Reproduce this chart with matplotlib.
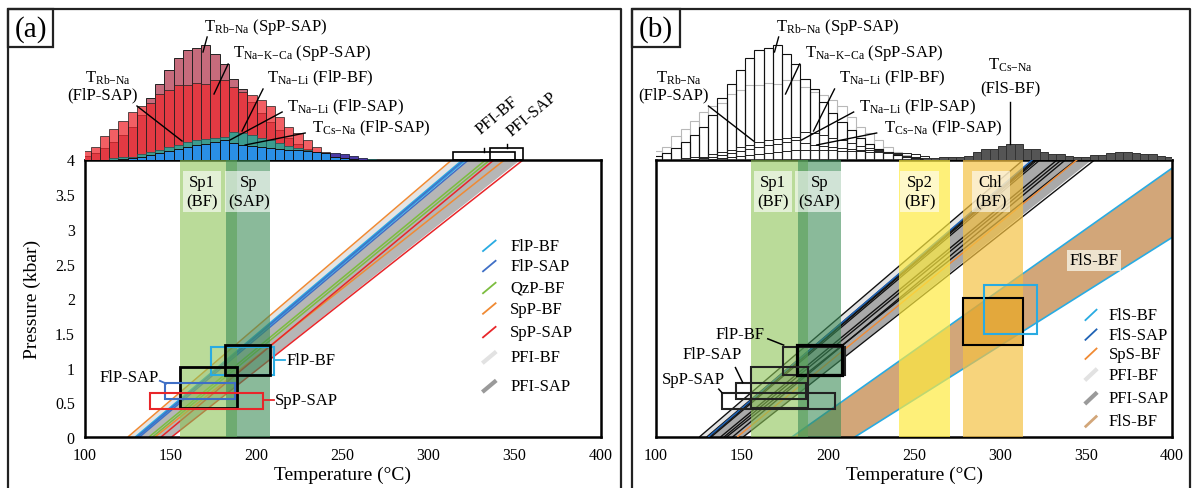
import matplotlib
matplotlib.use('Agg')
import matplotlib.pyplot as plt
from matplotlib.patches import Rectangle
from matplotlib.lines import Line2D
import numpy as np

plt.rcParams['font.family'] = ['Liberation Serif', 'DejaVu Serif']
plt.rcParams['mathtext.fontset'] = 'custom'
plt.rcParams['mathtext.rm'] = 'Liberation Serif'
plt.rcParams['mathtext.it'] = 'Liberation Serif:italic'

# ---------------- data ----------------
BIN_EDGES = [98.2, 103.6, 108.9, 114.3, 119.6, 125.0, 130.4, 135.7, 141.1, 146.4,
             151.8, 157.2, 162.5, 167.9, 173.2, 178.6, 184.0, 189.3, 194.7, 200.0,
             205.4, 210.8, 216.1, 221.5, 226.8, 232.2, 237.6, 242.9, 248.3, 253.6,
             259.0, 264.4, 269.7]
RB_NA_SPP_SAP = [4, 7, 12, 18, 25, 33, 45, 62, 76, 90, 102, 110, 112, 115, 106, 96,
                 81, 71, 58, 47, 38, 30, 22, 16, 11, 8, 5, 3, 2, 1, 1, 0]
NA_K_CA_SPP_SAP = [9, 13, 24, 31, 39, 48, 54, 57, 66, 70, 75, 75, 77, 76, 80, 80,
                   73, 68, 65, 60, 54, 43, 33, 27, 20, 13, 8, 5, 3, 2, 1, 0]
NA_LI_FLP_BF = [0, 0, 0, 2, 3, 3, 6, 8, 10, 13, 15, 18, 20, 21, 22, 23,
                28, 27, 25, 22, 20, 17, 14, 12, 10, 8, 6, 4, 3, 2, 1, 1]
CS_NA_FLP_SAP = [0, 0, 0, 0, 1, 2, 3, 5, 7, 9, 11, 13, 15, 16, 18, 20,
                 17, 15, 14, 13, 12, 11, 10, 10, 9, 8, 7, 3, 2, 1, 0, 0]
NA_LI_FLP_SAP = [0, 0, 0, 0, 0, 0, 1, 2, 3, 4, 5, 6, 7, 8, 9, 10,
                 10, 10, 10, 10, 9, 9, 9, 8, 8, 7, 7, 7, 6, 4, 2, 0]

FLS_BIN_EDGES = [255.0, 259.9, 264.7, 269.6, 274.4, 279.3, 284.2, 289.0, 293.9, 298.7,
                 303.6, 308.5, 313.3, 318.2, 323.0, 327.9, 332.8, 337.6, 342.5, 347.3,
                 352.2, 357.1, 361.9, 366.8, 371.6, 376.5, 381.4, 386.2, 391.1, 395.9, 400.8]
CS_NA_FLS_BF = [2, 2, 2.5, 3, 3, 3.3, 7.7, 11, 11, 13.7, 15.3, 15.3, 11, 11, 7.7,
                5.3, 5.3, 3.3, 2.7, 2.7, 4.3, 4.3, 6.7, 7.7, 7.7, 6.7, 5.3, 5.3, 3.3, 2.7]

# isochores: temperature at P = 0 and at P = 4 kbar
SPP_BF_T0, SPP_BF_T4 = [125.2, 141.0], [313.8, 344.5]
FLP_BF_T0, FLP_BF_T4 = [129.5, 131.0], [320.0, 322.0]
FLP_SAP_T0, FLP_SAP_T4 = [130.5, 132.0], [321.0, 323.5]
QZP_BF_T0, QZP_BF_T4 = [137.5, 139.5], [333.5, 336.0]
SPP_SAP_T0, SPP_SAP_T4 = [144.5, 150.7], [338.3, 355.3]
PFI_BF_T0, PFI_BF_T4 = [125.2, 129.5], [313.8, 320.0]
PFI_SAP_T0, PFI_SAP_T4 = [131.0, 150.0], [323.0, 353.0]
FLS_SAP_T0, FLS_SAP_T4 = [130.3], [319.0]
SPS_BF_T0, SPS_BF_T4 = [147.2], [345.0]
# FlS-BF band edges (T, P) end points
FLS_BF_UP_T, FLS_BF_UP_P = [179.0, 400.0], [0.0, 3.875]
FLS_BF_LO_T, FLS_BF_LO_P = [215.6, 400.0], [0.0, 2.875]

# mineral temperature ranges
SP1_BF = (155.3, 188.6)
SP_SAP = (182.3, 207.6)
SP2_BF = (241.3, 271.2)
CHL_BF = (278.3, 313.5)

# P-T boxes (Tmin, Tmax, Pmin, Pmax)
BOX_FLP_BF = (173.7, 210.1, 0.89, 1.30)
BOX_EST_SAP = (181.8, 208.0, 0.89, 1.33)
BOX_EST_BF = (155.3, 188.6, 0.42, 1.01)
BOX_FLP_SAP = (146.7, 187.4, 0.55, 0.78)
BOX_SPP_SAP = (138.3, 203.9, 0.41, 0.64)
BOX_CHL = (278.3, 313.5, 1.33, 2.01)
BOX_FLS_BF = (290.9, 321.4, 1.49, 2.19)

# PFI ranges at 4 kbar (panel a)
PFI_BF_RANGE = (314.0, 350.4)
PFI_SAP_RANGE = (335.9, 354.9)

XTICKS = [100, 150, 200, 250, 300, 350, 400]
YTICKS = [0, 0.5, 1, 1.5, 2, 2.5, 3, 3.5, 4]
YTICKLABELS = ['0', '0.5', '1', '1.5', '2', '2.5', '3', '3.5', '4']

# colours
C_LBLUE = '#29abe2'
C_BLUE = '#3f6fc6'
C_GREEN = '#7cbd3f'
C_ORANGE = '#f08a33'
C_RED = '#e8262a'
C_PFI_BF = '#e4e4e4'
C_PFI_SAP = '#a9a9a9'

W, H = 1192, 489
fig = plt.figure(figsize=(W / 100, H / 100), dpi=100)


def fbox(x0, y0, x1, y1):
    return [x0 / W, 1 - y1 / H, (x1 - x0) / W, (y1 - y0) / H]


AX_TOP, AX_BOT, HIST_TOP = 160.5, 438.0, 10.0
axA = fig.add_axes(fbox(84.5, AX_TOP, 600.5, AX_BOT))
axB = fig.add_axes(fbox(656.0, AX_TOP, 1172.0, AX_BOT))
hA = fig.add_axes(fbox(84.5, HIST_TOP, 600.5, AX_TOP), sharex=axA)
hB = fig.add_axes(fbox(656.0, HIST_TOP, 1172.0, AX_TOP), sharex=axB)

FS = 12
for ax in (axA, axB):
    ax.set_xlim(100, 400)
    ax.set_ylim(0, 4)
    ax.set_xticks(XTICKS)
    ax.set_xticklabels([str(v) for v in XTICKS], fontsize=11.5)
    ax.set_yticks(YTICKS)
    ax.tick_params(length=0, pad=7)
    for s in ax.spines.values():
        s.set_linewidth(1.8)
    ax.set_xlabel('Temperature (°C)', fontsize=14, labelpad=2)
axA.set_yticklabels(YTICKLABELS, fontsize=11.5)
axB.set_yticklabels([])
axA.set_ylabel('Pressure (kbar)', fontsize=14, labelpad=10)

for h in (hA, hB):
    h.set_ylim(0, AX_TOP - HIST_TOP)
    h.axis('off')
    h.patch.set_alpha(0)

edges = np.array(BIN_EDGES)
lefts, widths = edges[:-1], np.diff(edges)

# ---- panel (a) histograms ----
hA.bar(lefts, RB_NA_SPP_SAP, widths, align='edge', color='#c66b7c', edgecolor='#222222', lw=0.7, zorder=1)
hA.bar(lefts, NA_K_CA_SPP_SAP, widths, align='edge', color='#ee2a30', alpha=0.75, edgecolor='#222222', lw=0.7, zorder=2)
hA.bar(lefts, NA_LI_FLP_BF, widths, align='edge', color='#2aa898', alpha=0.9, edgecolor='#225555', lw=0.6, zorder=3)
hA.bar(lefts, NA_LI_FLP_SAP, widths, align='edge', color='#4b3aa6', edgecolor='#222244', lw=0.6, zorder=4)
hA.bar(lefts, CS_NA_FLP_SAP, widths, align='edge', color='#2a8fe6', edgecolor='#111111', lw=0.7, zorder=5)

# ---- panel (b) histograms (outlines) ----
hB.bar(lefts, NA_K_CA_SPP_SAP, widths, align='edge', facecolor='none', edgecolor='#b8b8b8', lw=0.8, zorder=1)
hB.bar(lefts, RB_NA_SPP_SAP, widths, align='edge', facecolor='none', edgecolor='#111111', lw=0.8, zorder=2)
for arr in (NA_LI_FLP_BF, NA_LI_FLP_SAP, CS_NA_FLP_SAP):
    hB.bar(lefts, arr, widths, align='edge', facecolor='none', edgecolor='#222222', lw=0.7, zorder=2)
fe = np.array(FLS_BIN_EDGES)
hB.bar(fe[:-1], CS_NA_FLS_BF, np.diff(fe), align='edge', color='#555555', edgecolor='#333333', lw=0.7, zorder=3)

# histogram labels: (text, x, y, pointer from, pointer to)
SUBLABELS = [
    (r'T$_{\mathregular{Rb{-}Na}}$ (SpP-SAP)', 169.5, 133.5, (171.3, 122.5), (168.9, 107.5)),
    (r'T$_{\mathregular{Na{-}K{-}Ca}}$ (SpP-SAP)', 186.4, 107.5, (183.5, 95.5), (175.3, 65.5)),
    (r'T$_{\mathregular{Na{-}Li}}$ (FlP-BF)', 206.2, 82.5, (203.8, 70.5), (191.6, 28.5)),
    (r'T$_{\mathregular{Na{-}Li}}$ (FlP-SAP)', 217.8, 53.5, (214.9, 47.5), (184.6, 19.5)),
    (r'T$_{\mathregular{Cs{-}Na}}$ (FlP-SAP)', 232.3, 32.5, (228.3, 26.5), (193.4, 14.5)),
]
for h in (hA, hB):
    for txt, x, y, p0, p1 in SUBLABELS:
        h.text(x, y, txt, fontsize=FS, ha='left', va='center', zorder=10, clip_on=False)
        h.plot([p0[0], p1[0]], [p0[1], p1[1]], color='k', lw=1.0, zorder=10, clip_on=False)
    h.text(113.4, 82.5, r'T$_{\mathregular{Rb{-}Na}}$', fontsize=FS, ha='center', va='center', zorder=10, clip_on=False)
    h.text(110.2, 65.5, '(FlP-SAP)', fontsize=FS, ha='center', va='center', zorder=10, clip_on=False)
    h.plot([130.5, 156.7], [53.5, 18.5], color='k', lw=1.0, zorder=10, clip_on=False)

hB.text(305.9, 95.5, r'T$_{\mathregular{Cs{-}Na}}$', fontsize=FS, ha='center', va='center', zorder=10)
hB.text(305.9, 72.5, '(FlS-BF)', fontsize=FS, ha='center', va='center', zorder=10)
hB.plot([305.9, 305.9], [57.5, 15.5], color='k', lw=1.0, zorder=10)

# PFI ranges on top of panel (a)
for (t0, t1), hgt, lab, lx, ly in ((PFI_BF_RANGE, 7.2, 'PFI-BF', 331.5, 22.0),
                                   (PFI_SAP_RANGE, 11.5, 'PFI-SAP', 349.5, 20.0)):
    hA.add_patch(Rectangle((t0, 0), t1 - t0, hgt, fill=False, ec='k', lw=1.2, zorder=6, clip_on=False))
    tm = (t0 + t1) / 2
    hA.plot([tm, tm], [hgt, hgt + 4], color='k', lw=1.0, zorder=6, clip_on=False)
    hA.text(lx, ly, lab, rotation=40, rotation_mode='anchor', ha='left', va='bottom',
            fontsize=FS, clip_on=False)

# ---- isochores ----
P_ENDS = [0, 4]


def draw_lines(ax, t0s, t4s, color, lw=1.1, z=2, ls='-'):
    for a, b in zip(t0s, t4s):
        ax.plot([a, b], P_ENDS, color=color, lw=lw, zorder=z, ls=ls, solid_capstyle='butt')


def draw_band(ax, t0s, t4s, color, alpha=1.0, z=1):
    ax.fill_betweenx(P_ENDS, [t0s[0], t4s[0]], [t0s[1], t4s[1]], color=color, alpha=alpha, lw=0, zorder=z)


# panel (a)
draw_band(axA, PFI_BF_T0, PFI_BF_T4, C_PFI_BF)
draw_band(axA, PFI_SAP_T0, PFI_SAP_T4, C_PFI_SAP, alpha=0.85)
draw_lines(axA, SPP_BF_T0, SPP_BF_T4, C_ORANGE)
draw_lines(axA, FLP_BF_T0, FLP_BF_T4, C_LBLUE)
draw_lines(axA, FLP_SAP_T0, FLP_SAP_T4, C_BLUE)
draw_lines(axA, QZP_BF_T0, QZP_BF_T4, C_GREEN)
draw_lines(axA, SPP_SAP_T0, SPP_SAP_T4, C_RED)

# panel (b)
draw_band(axB, PFI_BF_T0, PFI_BF_T4, C_PFI_BF)
draw_band(axB, PFI_SAP_T0, PFI_SAP_T4, '#a0a0a0', alpha=0.9)
for t0s, t4s in ((SPP_BF_T0, SPP_BF_T4), (FLP_BF_T0, FLP_BF_T4), (FLP_SAP_T0, FLP_SAP_T4),
                 (QZP_BF_T0, QZP_BF_T4), (SPP_SAP_T0, SPP_SAP_T4)):
    draw_lines(axB, t0s, t4s, '#111111', lw=1.0)
draw_lines(axB, FLS_SAP_T0, FLS_SAP_T4, '#1f63b5', lw=1.1, z=3)
draw_lines(axB, SPS_BF_T0, SPS_BF_T4, C_ORANGE, lw=1.0, z=3)
# FlS-BF band
poly_t = [FLS_BF_UP_T[0], FLS_BF_UP_T[1], FLS_BF_LO_T[1], FLS_BF_LO_T[0]]
poly_p = [FLS_BF_UP_P[0], FLS_BF_UP_P[1], FLS_BF_LO_P[1], FLS_BF_LO_P[0]]
axB.fill(poly_t, poly_p, color='#d2a679', lw=0, zorder=1)
axB.plot(FLS_BF_UP_T, FLS_BF_UP_P, color=C_LBLUE, lw=1.2, zorder=2)
axB.plot(FLS_BF_LO_T, FLS_BF_LO_P, color=C_LBLUE, lw=1.2, zorder=2)
axB.text(354.6, 2.55, 'FlS-BF', fontsize=FS, ha='center', va='center', zorder=6,
         bbox=dict(boxstyle='square,pad=0.15', fc='#f4eedf', ec='none', alpha=0.85))

# ---- mineral bands ----
BAND_Z = 4
for ax in (axA, axB):
    ax.axvspan(*SP1_BF, color='#8cc456', alpha=0.6, lw=0, zorder=BAND_Z)
    ax.axvspan(*SP_SAP, color='#3c8c57', alpha=0.6, lw=0, zorder=BAND_Z)
axB.axvspan(*SP2_BF, color='#feeb41', alpha=0.7, lw=0, zorder=BAND_Z)
axB.axvspan(*CHL_BF, color='#f5c244', alpha=0.7, lw=0, zorder=BAND_Z)

lab_box = dict(boxstyle='square,pad=0.2', fc='white', ec='none', alpha=0.6)
BAND_LABELS_A = [('Sp1\n(BF)', 168.5), ('Sp\n(SAP)', 195.5)]
BAND_LABELS_B = [('Sp1\n(BF)', 168.0), ('Sp\n(SAP)', 195.0), ('Sp2\n(BF)', 253.2), ('Chl\n(BF)', 294.6)]
for ax, labs in ((axA, BAND_LABELS_A), (axB, BAND_LABELS_B)):
    for t, x in labs:
        ax.text(x, 3.54, t, fontsize=FS, ha='center', va='center', zorder=6, bbox=lab_box,
                linespacing=1.25)


# ---- P-T boxes ----
def rect(ax, b, color, lw=1.4, z=7, fc='none'):
    ax.add_patch(Rectangle((b[0], b[2]), b[1] - b[0], b[3] - b[2], fc=fc, ec=color, lw=lw, zorder=z))


rect(axA, BOX_FLP_BF, C_LBLUE, lw=1.5)
rect(axA, BOX_EST_SAP, 'k', lw=2.0)
rect(axA, BOX_EST_BF, 'k', lw=2.0)
rect(axA, BOX_FLP_SAP, C_BLUE, lw=1.5)
rect(axA, BOX_SPP_SAP, C_RED, lw=1.5)
axA.text(217.6, 1.11, 'FlP-BF', fontsize=FS, ha='left', va='center', zorder=8)
axA.plot([BOX_FLP_BF[1], 216.5], [1.11, 1.11], color=C_LBLUE, lw=1.3, zorder=8)
axA.text(143.4, 0.86, 'FlP-SAP', fontsize=FS, ha='right', va='center', zorder=8)
axA.plot([143.8, 147.5], [0.81, 0.77], color=C_BLUE, lw=1.3, zorder=8)
axA.text(210.9, 0.53, 'SpP-SAP', fontsize=FS, ha='left', va='center', zorder=8)
axA.plot([BOX_SPP_SAP[1], 210.0], [0.53, 0.53], color=C_RED, lw=1.3, zorder=8)

axB.add_patch(Rectangle((BOX_CHL[0], BOX_CHL[2]), BOX_CHL[1] - BOX_CHL[0], BOX_CHL[3] - BOX_CHL[2],
                        fc='#dc9420', alpha=0.45, lw=0, zorder=5))
rect(axB, BOX_CHL, 'k', lw=1.5)
rect(axB, BOX_FLS_BF, C_LBLUE, lw=1.5)
rect(axB, BOX_FLP_BF, '#222222', lw=1.5)
rect(axB, BOX_EST_SAP, 'k', lw=2.3)
rect(axB, BOX_EST_BF, '#222222', lw=1.5)
rect(axB, BOX_FLP_SAP, '#222222', lw=1.5)
rect(axB, BOX_SPP_SAP, '#222222', lw=1.5)
axB.text(148.7, 1.49, 'FlP-BF', fontsize=FS, ha='center', va='center', zorder=8)
axB.plot([165.0, 174.2], [1.415, 1.325], color='k', lw=1.1, zorder=8)
axB.text(132.4, 1.19, 'FlP-SAP', fontsize=FS, ha='center', va='center', zorder=8)
axB.plot([146.2, 150.4], [1.0, 0.785], color='k', lw=1.1, zorder=8)
axB.text(121.5, 0.83, 'SpP-SAP', fontsize=FS, ha='center', va='center', zorder=8)
axB.plot([136.5, 138.3], [0.69, 0.64], color='k', lw=1.1, zorder=8)

# ---- legends (drawn manually with diagonal handles) ----
LEG_A = [('FlP-BF', C_LBLUE, 1.3), ('FlP-SAP', C_BLUE, 1.3), ('QzP-BF', C_GREEN, 1.3),
         ('SpP-BF', C_ORANGE, 1.3), ('SpP-SAP', C_RED, 1.3), ('PFI-BF', '#e2e2e2', 3.0),
         ('PFI-SAP', '#9a9a9a', 3.0)]
LEG_A_Y = [0.689, 0.616, 0.537, 0.463, 0.378, 0.287, 0.183]
LEG_B = [('FlS-BF', C_LBLUE, 1.3), ('FlS-SAP', '#1f63b5', 1.3), ('SpS-BF', C_ORANGE, 1.3),
         ('PFI-BF', '#e2e2e2', 3.0), ('PFI-SAP', '#9a9a9a', 3.0), ('FlS-BF', '#d2a679', 2.0)]
LEG_B_Y = [0.44, 0.369, 0.30, 0.225, 0.14, 0.056]

for ax, entries, ys, hx0, hx1, tx in ((axA, LEG_A, LEG_A_Y, 0.771, 0.798, 0.825),
                                      (axB, LEG_B, LEG_B_Y, 0.831, 0.855, 0.877)):
    for (lab, col, lw), y in zip(entries, ys):
        ax.add_line(Line2D([hx0, hx1], [y - 0.021, y + 0.021], transform=ax.transAxes,
                           color=col, lw=lw, zorder=9, solid_capstyle='butt'))
        ax.text(tx, y, lab, transform=ax.transAxes, fontsize=FS, ha='left', va='center', zorder=9)

# ---- panel frames and tags ----
for pts in (((8, 489), (8, 10), (621, 10), (621, 489)),
            ((632, 489), (632, 10), (1190, 10), (1190, 489))):
    xs = [p[0] / W for p in pts]
    ys = [1 - p[1] / H for p in pts]
    fig.add_artist(Line2D(xs, ys, color='#222222', lw=1.6, transform=fig.transFigure))
for x0, x1, tag in ((8, 53, '(a)'), (632, 680, '(b)')):
    fig.add_artist(Rectangle((x0 / W, 1 - 48 / H), (x1 - x0) / W, 38 / H, fill=False,
                             ec='#222222', lw=1.6, transform=fig.transFigure))
    fig.text((x0 + x1) / 2 / W, 1 - 30 / H, tag, fontsize=21, ha='center', va='center')

fig.savefig('out.png', dpi=100)
